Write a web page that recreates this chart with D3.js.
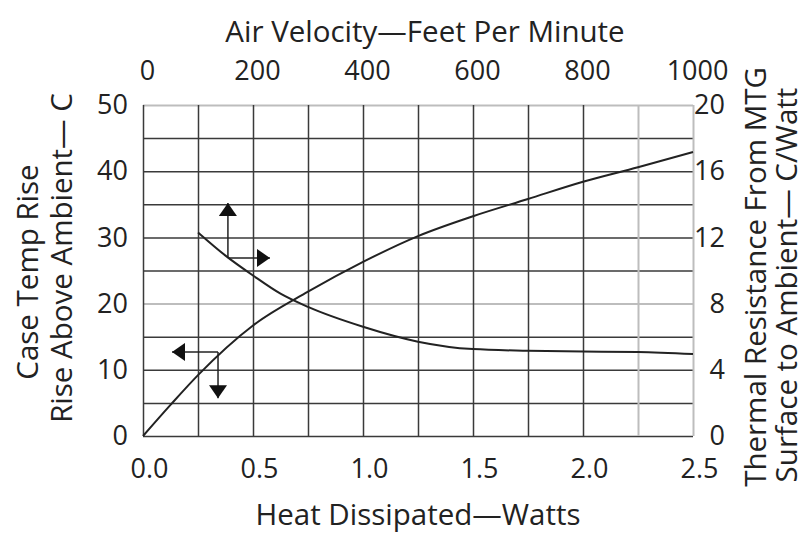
<!DOCTYPE html>
<html>
<head>
<meta charset="utf-8">
<script src="https://cdn.jsdelivr.net/npm/d3@7"></script>
<style>
  body { margin: 0; background: #fff; }
  svg text { font-family: "Open Sans", "Liberation Sans", sans-serif; fill: #222; }
  .grid line { stroke: #3a3a3a; stroke-width: 1.5; }
  .grid line.faint { stroke: #bdbdbd; stroke-width: 2; }
  .grid .domain { display: none; }
  .lbl .domain, .lbl line { display: none; }
</style>
</head>
<body>
<div id="chart"></div>
<script>
(function () {
  // rising curve: case temp rise (left axis) vs heat dissipated (bottom axis)
  const watts = [0, 0.125, 0.25, 0.5, 0.75, 1.0, 1.25, 1.5, 1.75, 2.0, 2.25, 2.5];
  const tempRise = [0, 4.7, 9.2, 16.7, 21.8, 26.3, 30.2, 33.2, 35.8, 38.4, 40.6, 42.9];
  // falling curve: thermal resistance (right axis) vs air velocity (top axis)
  const airFpm = [100, 150, 200, 250, 300, 400, 500, 600, 700, 800, 900, 1000];
  const thermalRes = [12.3, 10.9, 9.7, 8.6, 7.8, 6.6, 5.7, 5.25, 5.15, 5.1, 5.08, 4.95];

  const bottomTicks = [0, 0.5, 1.0, 1.5, 2.0, 2.5];
  const topTicks = [0, 200, 400, 600, 800, 1000];
  const leftTicks = [0, 10, 20, 30, 40, 50];
  const rightTicks = [0, 4, 8, 12, 16, 20];

  // arrow keys, in watts / degC: start point and the two tips
  const arrowRight = { x: 0.386, y: 26.9, tipY: 35.2, tipX: 0.577 };
  const arrowLeft = { x: 0.341, y: 12.7, tipY: 5.7, tipX: 0.132 };

  const w = 807;
  const h = 533;
  const left = 143, right = 693, top = 105, bottom = 436;

  const x = d3.scaleLinear().domain([0, 2.5]).range([left, right]);
  const xTop = d3.scaleLinear().domain([0, 1000]).range([left, right]);
  const y = d3.scaleLinear().domain([0, 50]).range([bottom, top]);
  const yRight = d3.scaleLinear().domain([0, 20]).range([bottom, top]);

  const svg = d3.select("#chart")
    .append("svg")
    .attr("width", w)
    .attr("height", h);

  // grid: 10 x 10 cells, a few lines printed lighter in the original
  const faintY = [20, 50];
  const faintX = [2.25, 2.5];

  svg.append("g")
    .attr("class", "grid")
    .attr("transform", `translate(${left}, 0)`)
    .call(d3.axisLeft(y).tickValues(d3.range(0, 51, 5)).tickSize(-(right - left)).tickFormat(""))
    .selectAll(".tick line")
    .classed("faint", (d) => faintY.includes(d));

  svg.append("g")
    .attr("class", "grid")
    .attr("transform", `translate(0, ${bottom})`)
    .call(d3.axisBottom(x).tickValues(d3.range(0, 11).map((i) => i * 0.25)).tickSize(-(bottom - top)).tickFormat(""))
    .selectAll(".tick line")
    .classed("faint", (d) => faintX.some((f) => Math.abs(f - d) < 1e-6));

  // tick labels
  const fs = "27px";
  svg.append("g")
    .attr("class", "lbl")
    .attr("transform", `translate(${left - 15}, 0)`)
    .call(d3.axisLeft(y).tickValues(leftTicks).tickSize(0).tickPadding(0))
    .selectAll("text").style("font-size", fs);

  svg.append("g")
    .attr("class", "lbl")
    .attr("transform", `translate(${right + 32}, 0)`)
    .call(d3.axisLeft(yRight).tickValues(rightTicks).tickSize(0).tickPadding(0))
    .selectAll("text").style("font-size", fs);

  svg.append("g")
    .attr("class", "lbl")
    .attr("transform", `translate(6, ${bottom + 23})`)
    .call(d3.axisBottom(x).tickValues(bottomTicks).tickSize(0).tickPadding(0).tickFormat(d3.format(".1f")))
    .selectAll("text").style("font-size", fs);

  svg.append("g")
    .attr("class", "lbl")
    .attr("transform", `translate(4, ${top - 25})`)
    .call(d3.axisTop(xTop).tickValues(topTicks).tickSize(0).tickPadding(0).tickFormat(d3.format("d")))
    .selectAll("text").style("font-size", fs);

  // axis titles
  const title = (tx, ty, rot, txt) => svg.append("text")
    .attr("transform", `translate(${tx}, ${ty}) rotate(${rot})`)
    .attr("text-anchor", "middle")
    .style("font-size", "29.5px")
    .text(txt);

  title(425, 42, 0, "Air Velocity\u2014Feet Per Minute");
  title(418, 525, 0, "Heat Dissipated\u2014Watts");
  title(38, 272, -90, "Case Temp Rise");
  title(72, 258, -90, "Rise Above Ambient\u2014 C");
  title(766, 277, -90, "Thermal Resistance From MTG");
  title(797, 285, -90, "Surface to Ambient\u2014 C/Watt");

  // curves
  const line1 = d3.line()
    .x((d, i) => x(watts[i]))
    .y((d) => y(d))
    .curve(d3.curveMonotoneX);

  const line2 = d3.line()
    .x((d, i) => xTop(airFpm[i]))
    .y((d) => yRight(d))
    .curve(d3.curveMonotoneX);

  svg.append("path")
    .attr("d", line1(tempRise))
    .attr("fill", "none")
    .attr("stroke", "#222")
    .attr("stroke-width", 2);

  svg.append("path")
    .attr("d", line2(thermalRes))
    .attr("fill", "none")
    .attr("stroke", "#222")
    .attr("stroke-width", 2);

  // arrows
  svg.append("defs").append("marker")
    .attr("id", "head")
    .attr("viewBox", "0 0 13 18")
    .attr("refX", 13)
    .attr("refY", 9)
    .attr("markerUnits", "userSpaceOnUse")
    .attr("markerWidth", 13)
    .attr("markerHeight", 18)
    .attr("orient", "auto")
    .append("path")
    .attr("d", "M0,0L13,9L0,18Z")
    .attr("fill", "#111");

  const arrow = (x1, y1, x2, y2) => svg.append("line")
    .attr("x1", x1).attr("y1", y1)
    .attr("x2", x2).attr("y2", y2)
    .attr("stroke", "#222")
    .attr("stroke-width", 1.5)
    .attr("marker-end", "url(#head)");

  [arrowRight, arrowLeft].forEach((a) => {
    arrow(x(a.x), y(a.y), x(a.x), y(a.tipY));
    arrow(x(a.x), y(a.y), x(a.tipX), y(a.y));
  });
})();
</script>
</body>
</html>
